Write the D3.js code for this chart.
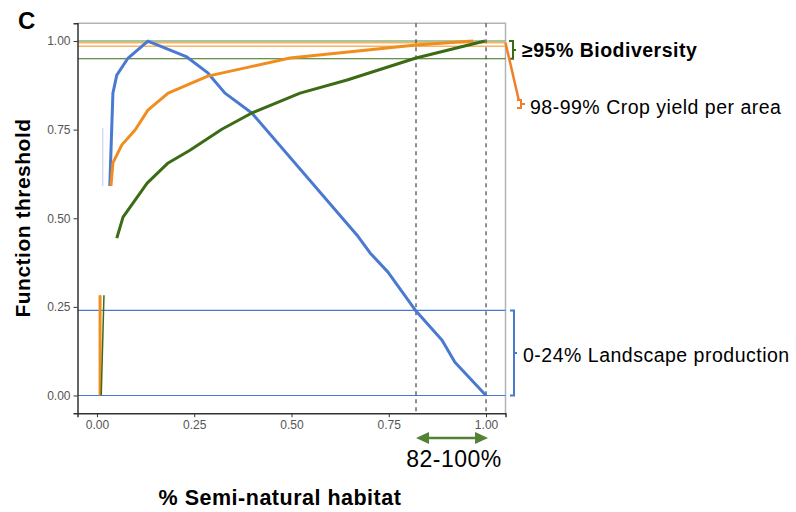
<!DOCTYPE html>
<html>
<head>
<meta charset="utf-8">
<script src="https://cdn.jsdelivr.net/npm/d3@7"></script>
<style>
  body { margin: 0; background: #fff; }
  svg { font-family: "Liberation Sans", Arial, sans-serif; }
</style>
</head>
<body>
<div id="chart"></div>
<script>
// values (x = share of semi-natural habitat, y = function threshold)
const blueCurve = [[0.033,0.591],[0.041,0.853],[0.051,0.904],[0.080,0.952],[0.131,1.0],[0.231,0.955],
  [0.285,0.910],[0.329,0.853],[0.398,0.797],[0.668,0.453],[0.702,0.402],[0.748,0.348],[0.820,0.238],
  [0.887,0.156],[0.920,0.094],[1.0,0.0]];
const orangeCurve = [[0.036,0.591],[0.041,0.656],[0.064,0.707],[0.098,0.749],[0.131,0.805],[0.183,0.853],
  [0.285,0.901],[0.393,0.927],[0.496,0.952],[0.820,0.989],[0.967,1.0]];
const greenCurve = [[0.051,0.444],[0.067,0.503],[0.129,0.599],[0.183,0.656],[0.239,0.692],[0.321,0.751],
  [0.398,0.797],[0.522,0.853],[0.643,0.890],[0.820,0.952],[0.997,1.0]];
// stray bits of the curves near zero
const orangeLow = [[0.008,0],[0.008,0.283]];
const greenLow = [[0.011,0],[0.018,0.283]];
const blueLow = [[0.015,0.59],[0.015,0.755]];

const greenThresholds = [1.0, 0.95];
const orangeThresholds = [0.995, 0.985];
const blueThresholds = [0.24, 0.0];
const dashedX = [0.82, 1.0];

const xTicks = [0, 0.25, 0.5, 0.75, 1];
const yTicks = [0, 0.25, 0.5, 0.75, 1];

const BLUE = '#4a79d1', ORANGE = '#f08d1f', GREEN = '#3b6b15';

const svg = d3.select('#chart').append('svg')
    .attr('width', 796)
    .attr('height', 512);

const x = d3.scaleLinear().domain([-0.05, 1.05]).range([77.5, 505.5]);
const y = d3.scaleLinear().domain([-0.05, 1.05]).range([413.2, 23.3]);

const line = d3.line().x(d => x(d[0])).y(d => y(d[1]));

// panel border (top/right grey)
svg.append('path')
    .attr('d', `M${x(-0.05)},${y(1.05)}H${x(1.05)}V${y(-0.05)}`)
    .attr('fill', 'none')
    .attr('stroke', '#b3b3b3')
    .attr('stroke-width', 1.5);

// threshold lines
function hline(v, colour, w) {
    svg.append('line')
        .attr('x1', x(-0.05)).attr('x2', x(1.05))
        .attr('y1', y(v)).attr('y2', y(v))
        .attr('stroke', colour)
        .attr('stroke-width', w);
}
hline(greenThresholds[0], '#8fb27a', 1.5);
orangeThresholds.forEach(v => hline(v, '#f5b468', 1.5));
hline(greenThresholds[1], GREEN, 1.2);
blueThresholds.forEach(v => hline(v, BLUE, 1.2));

// dashed guides
svg.selectAll('.guide')
    .data(dashedX)
    .enter().append('line')
    .attr('class', 'guide')
    .attr('x1', d => x(d)).attr('x2', d => x(d))
    .attr('y1', y(1.05)).attr('y2', y(-0.05))
    .attr('stroke', '#444')
    .attr('stroke-width', 1.2)
    .attr('stroke-dasharray', '4,4');

// curves
svg.append('path').datum(blueLow).attr('d', line)
    .attr('fill', 'none').attr('stroke', '#c9d5ec').attr('stroke-width', 1.2);
svg.append('path').datum(orangeLow).attr('d', line)
    .attr('fill', 'none').attr('stroke', ORANGE).attr('stroke-width', 3);
svg.append('path').datum(greenLow).attr('d', line)
    .attr('fill', 'none').attr('stroke', GREEN).attr('stroke-width', 1.5);

[[blueCurve, BLUE], [orangeCurve, ORANGE], [greenCurve, GREEN]].forEach(([d, c]) => {
    svg.append('path').datum(d).attr('d', line)
        .attr('fill', 'none')
        .attr('stroke', c)
        .attr('stroke-width', 3)
        .attr('stroke-linejoin', 'round');
});

// axes
const xAxis = svg.append('g')
    .attr('transform', `translate(0,${y(-0.05)})`)
    .call(d3.axisBottom(x).tickValues(xTicks).tickFormat(d3.format('.2f')).tickSizeOuter(0).tickSize(4).tickPadding(3));
const yAxis = svg.append('g')
    .attr('transform', `translate(${x(-0.05)},0)`)
    .call(d3.axisLeft(y).tickValues(yTicks).tickFormat(d3.format('.2f')).tickSizeOuter(0).tickSize(4).tickPadding(3));
[xAxis, yAxis].forEach(g => {
    g.select('.domain').attr('stroke', '#333').attr('stroke-width', 1.5);
    g.selectAll('.tick line').attr('stroke', '#333');
    g.selectAll('.tick text').attr('fill', '#555').style('font-size', '12px')
        .style('font-family', '"Liberation Sans", Arial, sans-serif');
});

// axis titles
svg.append('text')
    .attr('x', 280).attr('y', 505)
    .attr('text-anchor', 'middle')
    .style('font-weight', 'bold').style('font-size', '21.5px').style('letter-spacing', '0.5px')
    .text('% Semi-natural habitat');
svg.append('text')
    .attr('transform', 'translate(30,218) rotate(-90)')
    .attr('text-anchor', 'middle')
    .style('font-weight', 'bold').style('font-size', '21px').style('letter-spacing', '0.5px')
    .text('Function threshold');
svg.append('text')
    .attr('x', 18).attr('y', 29)
    .style('font-weight', 'bold').style('font-size', '24px')
    .text('C');

// right-hand annotations
function brace(x0, ya, yb, colour) {
    const ym = (ya + yb) / 2;
    svg.append('path')
        .attr('d', `M${x0 - 4},${ya}H${x0}V${yb}H${x0 - 4}M${x0},${ym}H${x0 + 3}`)
        .attr('fill', 'none')
        .attr('stroke', colour)
        .attr('stroke-width', 2);
}
const noteSize = '19.5px', noteSpacing = '0.5px';
brace(513, y(1.0), y(0.95), GREEN);
svg.append('text')
    .attr('x', 522).attr('y', y(0.975) + 7)
    .style('font-weight', 'bold').style('font-size', noteSize).style('letter-spacing', noteSpacing)
    .text('≥95% Biodiversity');

svg.append('path')
    .attr('d', `M${x(1.05)},${y(0.995)}L519,101`)
    .attr('stroke', '#f07f2a').attr('stroke-width', 2.5).attr('fill', 'none');
svg.append('path')
    .attr('d', 'M517,100H521V108H517M521,104H525')
    .attr('stroke', '#f07f2a').attr('stroke-width', 2).attr('fill', 'none');
svg.append('text')
    .attr('x', 530).attr('y', 114)
    .style('font-size', noteSize).style('letter-spacing', noteSpacing)
    .text('98-99% Crop yield per area');

brace(514, y(0.24), y(0), BLUE);
svg.append('text')
    .attr('x', 523).attr('y', 362)
    .style('font-size', noteSize).style('letter-spacing', noteSpacing)
    .text('0-24% Landscape production');

// double arrow under the axis
const ARROW = '#548235';
const ax0 = x(0.82), ax1 = x(1.0) + 2, ay = 438;
svg.append('line')
    .attr('x1', ax0 + 10).attr('x2', ax1 - 10)
    .attr('y1', ay).attr('y2', ay)
    .attr('stroke', ARROW).attr('stroke-width', 2.5);
svg.append('path')
    .attr('d', `M${ax0},${ay}L${ax0 + 13},${ay - 6}V${ay + 6}Z M${ax1},${ay}L${ax1 - 13},${ay - 6}V${ay + 6}Z`)
    .attr('fill', ARROW);
svg.append('text')
    .attr('x', 454).attr('y', 467)
    .attr('text-anchor', 'middle')
    .style('font-size', '23px').style('letter-spacing', '0.5px')
    .text('82-100%');
</script>
</body>
</html>
